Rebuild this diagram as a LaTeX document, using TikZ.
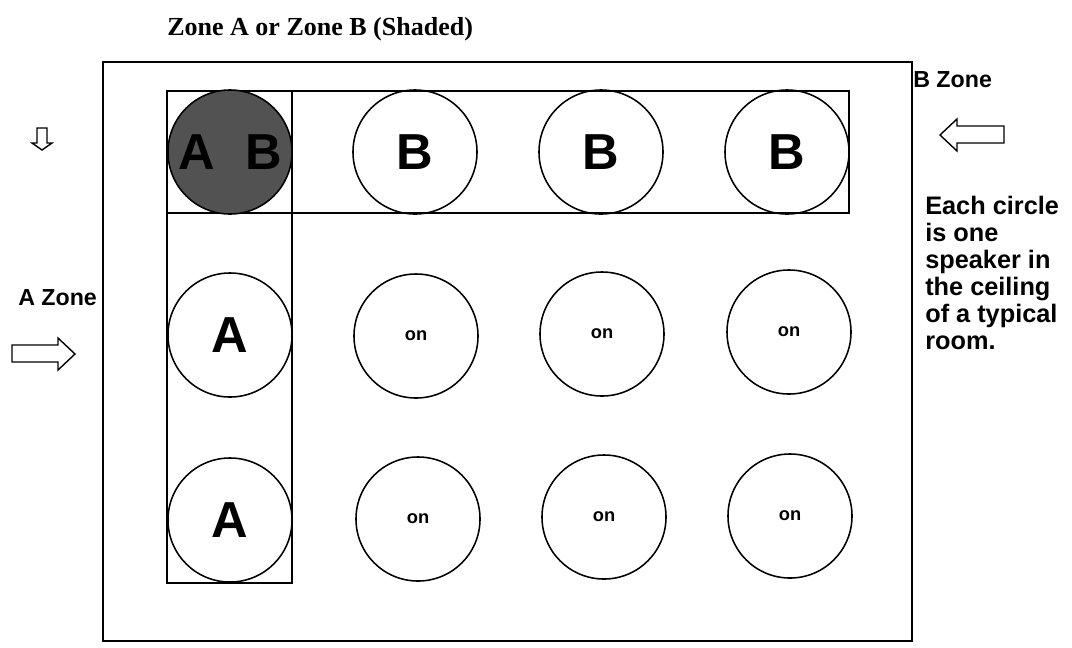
\documentclass[tikz,border=0pt]{standalone}
\usepackage{fontspec}
\setmainfont{Liberation Serif}
\setsansfont{Liberation Sans}

\begin{document}
\begin{tikzpicture}[
    x=0.025cm, y=-0.025cm,
    node font=\sffamily\bfseries,
    spk/.style={circle, draw=black, line width=1.1pt, minimum size=3.1cm, inner sep=0pt},
    spk shaded/.style={spk, fill=black!68},
    big/.style={font=\fontsize{36}{40}\selectfont},
    small/.style={font=\fontsize{13}{15}\selectfont},
    zone label/.style={font=\fontsize{16.5}{19}\selectfont, anchor=base west, inner sep=0pt},
    hollow arrow/.style={draw=black, fill=white, line width=1pt, line join=miter},
]

\useasboundingbox (0,0) rectangle (1072,647);

% === Title ===
\node[anchor=base west, inner sep=0pt, font=\rmfamily\bfseries\fontsize{18.5}{22}\selectfont]
    (title) at (167,35) {Zone A or Zone B (Shaded)};

% === Room ===
\draw[line width=0.9pt] (103,62) rectangle (912,641);

% Zone boxes
\draw[line width=0.8pt] (167,91) rectangle (849,213);
\draw[line width=0.8pt] (167,91) rectangle (292,583);

% === Speakers ===
\node[spk shaded, big] (ab) at (230,152) {A\hspace{0.6em}B};

\node[spk, big] (b1) at (415,152) {B};
\node[spk, big] (b2) at (601,152) {B};
\node[spk, big] (b3) at (787,152) {B};

\node[spk, big] (a1) at (230,335) {A};
\node[spk, big] (a2) at (230,520) {A};

\foreach \x/\y/\n in {416/336/11, 602/334/12, 789/332/13, 418/519/21, 604/517/22, 790/516/23} {
    \node[spk, small] (on\n) at (\x,\y) {on};
}

% === Zone labels and arrows ===
% small down arrow
\draw[hollow arrow] (37,128) -- (47,128) -- (47,143) -- (52,143) -- (42,150)
    -- (32,143) -- (37,143) -- cycle;

% A zone
\node[zone label] (azone) at (18,305) {A Zone};
\draw[hollow arrow] (12,345) -- (58,345) -- (58,338) -- (75,354) -- (58,370)
    -- (58,362) -- (12,362) -- cycle;

% B zone
\node[zone label] (bzone) at (913,87) {B Zone};
\draw[hollow arrow] (1004,126) -- (957,126) -- (957,119) -- (940,135) -- (957,151)
    -- (957,143) -- (1004,143) -- cycle;

% Note
\node[anchor=north west, align=left, inner sep=0pt, font=\fontsize{18}{19.2}\selectfont]
    (note) at (925,196) {Each circle\\is one\\speaker in\\the ceiling\\of a typical\\room.};

\end{tikzpicture}
\end{document}
